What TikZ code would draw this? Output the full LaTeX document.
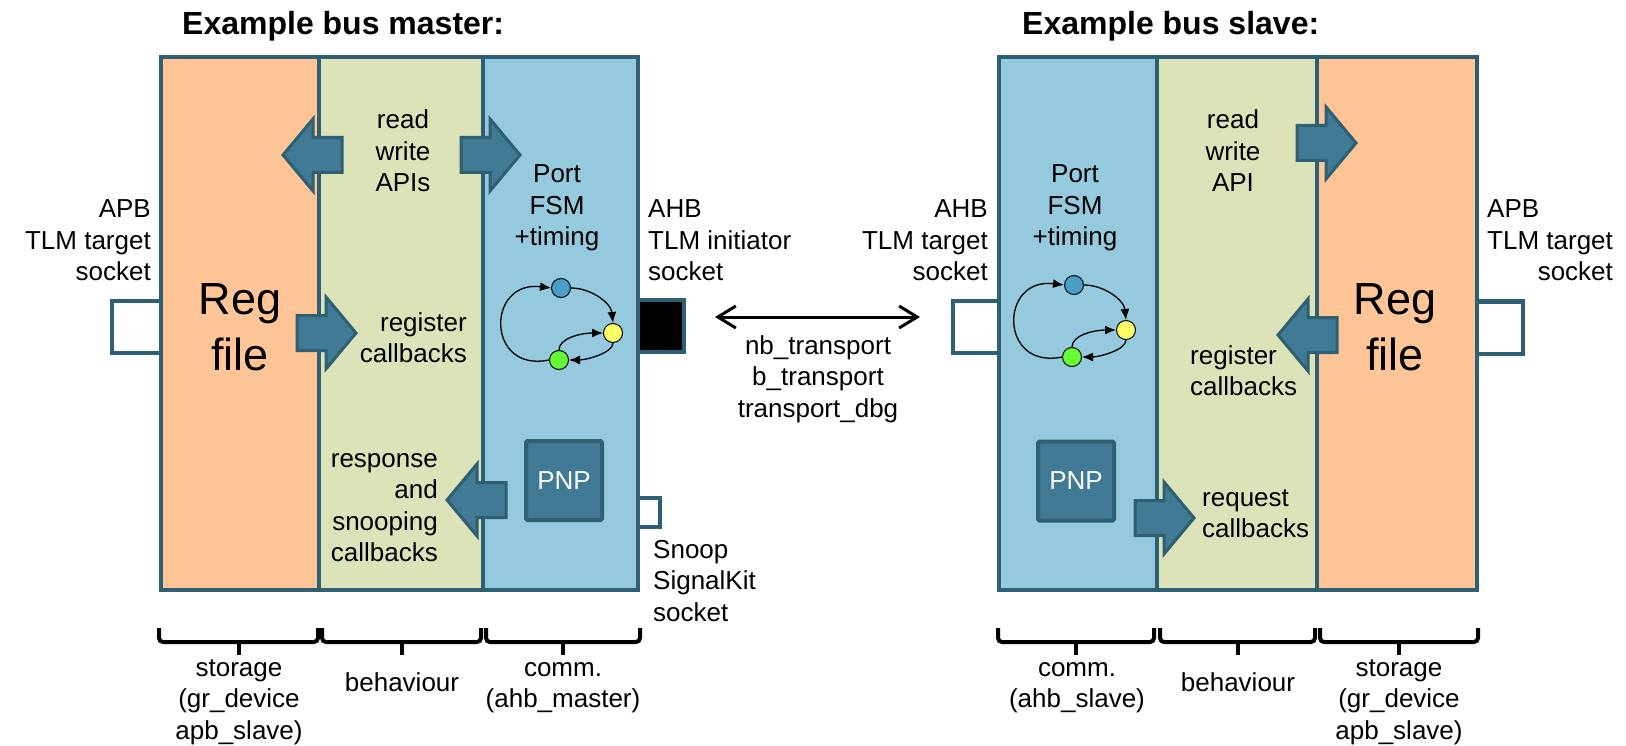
\documentclass[tikz,border=0pt]{standalone}
\usepackage{fontspec}
\setmainfont{Liberation Sans}
\usetikzlibrary{arrows.meta}

\definecolor{cOrange}{HTML}{FFC596}
\definecolor{cGreen}{HTML}{DDE3B8}
\definecolor{cBlue}{HTML}{94C9DE}
\definecolor{cEdge}{HTML}{2F5F72}
\definecolor{cTeal}{HTML}{417A94}
\definecolor{cDotBlue}{HTML}{4A9FC9}
\definecolor{cDotYellow}{HTML}{FFFF66}
\definecolor{cDotGreen}{HTML}{66FF33}

% stacked lines whose reference point is the first baseline
\newcommand{\linesc}[1]{\begin{tabular}[t]{@{}c@{}}#1\end{tabular}}
\newcommand{\linesr}[1]{\begin{tabular}[t]{@{}r@{}}#1\end{tabular}}
\newcommand{\linesl}[1]{\begin{tabular}[t]{@{}l@{}}#1\end{tabular}}

\begin{document}
\begin{tikzpicture}[x=1pt,y=-1pt,
  txt/.style={inner sep=0pt, anchor=base, font=\fontsize{26}{31.5}\selectfont},
  bigtxt/.style={inner sep=0pt, anchor=base, font=\fontsize{45}{56}\selectfont},
  title/.style={inner sep=0pt, anchor=base west, font=\fontsize{32}{38}\selectfont\bfseries},
  col/.style={draw=cEdge, line width=4pt, inner sep=0pt, minimum height=533pt},
  sock/.style={draw=cEdge, line width=4pt, fill=white, inner sep=0pt},
  pnp/.style={draw=cEdge, fill=cTeal, line width=4pt, rounded corners=1.5pt,
    minimum width=76pt, minimum height=79pt, inner sep=0pt, text=white,
    font=\fontsize{26}{31}\selectfont},
  barrow/.style={fill=cTeal, draw=cEdge, line width=3pt, line join=miter},
  blockarrow/.pic={\draw[barrow] (0,-17.5) -- (29,-17.5) -- (29,-36) -- (59,0)
      -- (29,36) -- (29,17.5) -- (0,17.5) -- cycle;},
  dot/.style={circle, draw=black, line width=1pt, minimum size=19pt, inner sep=0pt},
  fsmarrow/.style={line width=1.3pt, -{Latex[length=11pt,width=9pt]}},
  fsm/.pic={
    \node[dot, fill=cDotBlue] (-b) at (0,0) {};
    \node[dot, fill=cDotYellow] (-y) at (52,45) {};
    \node[dot, fill=cDotGreen] (-g) at (-2,72) {};
    \draw[fsmarrow] (-g.west) .. controls (-75,85) and (-75,-8) .. (-b.west);
    \draw[fsmarrow] (-b.east) .. controls (30,0) and (50,15) .. (-y.north);
    \draw[fsmarrow] (-g.north) .. controls (-2,50) and (20,45) .. (-y.west);
    \draw[fsmarrow] (-y.south) .. controls (52,65) and (25,72) .. (-g.east);
  },
  bracket/.style={draw=black, line width=4pt, rounded corners=4pt},
  busarrow/.style={line width=3pt,
    {Straight Barb[length=18pt,width=22pt]}-{Straight Barb[length=18pt,width=22pt]}}
]
\useasboundingbox (0,0) rectangle (1626,746);

% titles
\node[title] (tmaster) at (182,35) {Example bus master:};
\node[title] (tslave) at (1022,35) {Example bus slave:};

% sockets (drawn first so that the block edges lie on top)
\node[sock, minimum width=49pt, minimum height=52pt] (mapb) at (136.5,327) {};
\node[sock, fill=black, minimum width=46pt, minimum height=52pt] (mahb) at (661,326) {};
\node[sock, minimum width=22pt, minimum height=29pt] (msnoop) at (649,512.5) {};
\node[sock, minimum width=46pt, minimum height=52pt] (sahb) at (976,327) {};
\node[sock, minimum width=46pt, minimum height=52pt] (sapb) at (1500,327.5) {};

% bus master: storage, behaviour, communication
\node[col, fill=cOrange, minimum width=158pt] (mstore) at (240,323.5) {};
\node[col, fill=cGreen, minimum width=164pt] (mbeh) at (401,323.5) {};
\node[col, fill=cBlue, minimum width=155pt] (mcomm) at (560.5,323.5) {};

% bus slave: communication, behaviour, storage
\node[col, fill=cBlue, minimum width=158pt] (scomm) at (1078,323.5) {};
\node[col, fill=cGreen, minimum width=160pt] (sbeh) at (1237,323.5) {};
\node[col, fill=cOrange, minimum width=160pt] (sstore) at (1397,323.5) {};

% plug and play blocks
\node[pnp] (mpnp) at (564,480.5) {PNP};
\node[pnp] (spnp) at (1076,481) {PNP};

% block arrows of the master
\pic[rotate=180] at (342,155) {blockarrow};
\pic at (461,155) {blockarrow};
\pic at (297,333) {blockarrow};
\pic[rotate=180] at (506,500) {blockarrow};

% block arrows of the slave
\pic at (1297,143) {blockarrow};
\pic[rotate=180] at (1337,335) {blockarrow};
\pic at (1135,518) {blockarrow};

% port state machines
\pic (mfsm) at (561,288) {fsm};
\pic (sfsm) at (1074,285) {fsm};

% transport interface between the sockets
\coordinate (busL) at (715,317);
\coordinate (busR) at (920,317);
\draw[busarrow] (busL) -- (busR);
\node[txt] (tbus) at (818,354) {\linesc{nb\_transport\\b\_transport\\transport\_dbg}};

% master texts
\node[txt] (mrw) at (403,129) {\linesc{read\\write\\APIs}};
\node[txt] (mport) at (557,183) {\linesc{Port\\FSM\\+timing}};
\node[bigtxt] (mreg) at (240,315) {\linesc{Reg\\file}};
\node[txt, anchor=base east] (mregcb) at (467,331) {\linesr{register\\callbacks}};
\node[txt, anchor=base east] (mresp) at (438,467) {\linesr{response\\and\\snooping\\callbacks}};
\node[txt, anchor=base east] (tmapb) at (151,218) {\linesr{APB\\TLM target\\socket}};
\node[txt, anchor=base west] (tmahb) at (648,218) {\linesl{AHB\\TLM initiator\\socket}};
\node[txt, anchor=base west] (tsnoop) at (653,558) {\linesl{Snoop\\SignalKit\\socket}};

% slave texts
\node[txt] (srw) at (1233,129) {\linesc{read\\write\\API}};
\node[txt] (sport) at (1075,183) {\linesc{Port\\FSM\\+timing}};
\node[bigtxt] (sreg) at (1395,315) {\linesc{Reg\\file}};
\node[txt, anchor=base west] (sregcb) at (1190,364) {\linesl{register\\callbacks}};
\node[txt, anchor=base west] (sreq) at (1202,506) {\linesl{request\\callbacks}};
\node[txt, anchor=base east] (tsahb) at (988,218) {\linesr{AHB\\TLM target\\socket}};
\node[txt, anchor=base west] (tsapb) at (1487,218) {\linesl{APB\\TLM target\\\hfill socket}};

% brackets under the master
\draw[bracket] (159,628) |- (238.5,642) -| (318,628);
\draw[bracket] (238.5,642) -- (238.5,655) coordinate (bm1);
\draw[bracket] (322,628) |- (401.5,642) -| (481,628);
\draw[bracket] (401.5,642) -- (401.5,655) coordinate (bm2);
\draw[bracket] (486,628) |- (563,642) -| (640,628);
\draw[bracket] (563,642) -- (563,655) coordinate (bm3);

% brackets under the slave
\draw[bracket] (998,628) |- (1076,642) -| (1154,628);
\draw[bracket] (1076,642) -- (1076,655) coordinate (bs1);
\draw[bracket] (1160,628) |- (1237.5,642) -| (1315,628);
\draw[bracket] (1237.5,642) -- (1237.5,655) coordinate (bs2);
\draw[bracket] (1320,628) |- (1399,642) -| (1478,628);
\draw[bracket] (1399,642) -- (1399,655) coordinate (bs3);

% bracket labels
\node[txt] (lm1) at (239,676) {\linesc{storage\\(gr\_device\\apb\_slave)}};
\node[txt] (lm2) at (402,691) {behaviour};
\node[txt] (lm3) at (563,676) {\linesc{comm.\\(ahb\_master)}};
\node[txt] (ls1) at (1077,676) {\linesc{comm.\\(ahb\_slave)}};
\node[txt] (ls2) at (1238,691) {behaviour};
\node[txt] (ls3) at (1399,676) {\linesc{storage\\(gr\_device\\apb\_slave)}};
\end{tikzpicture}
\end{document}
